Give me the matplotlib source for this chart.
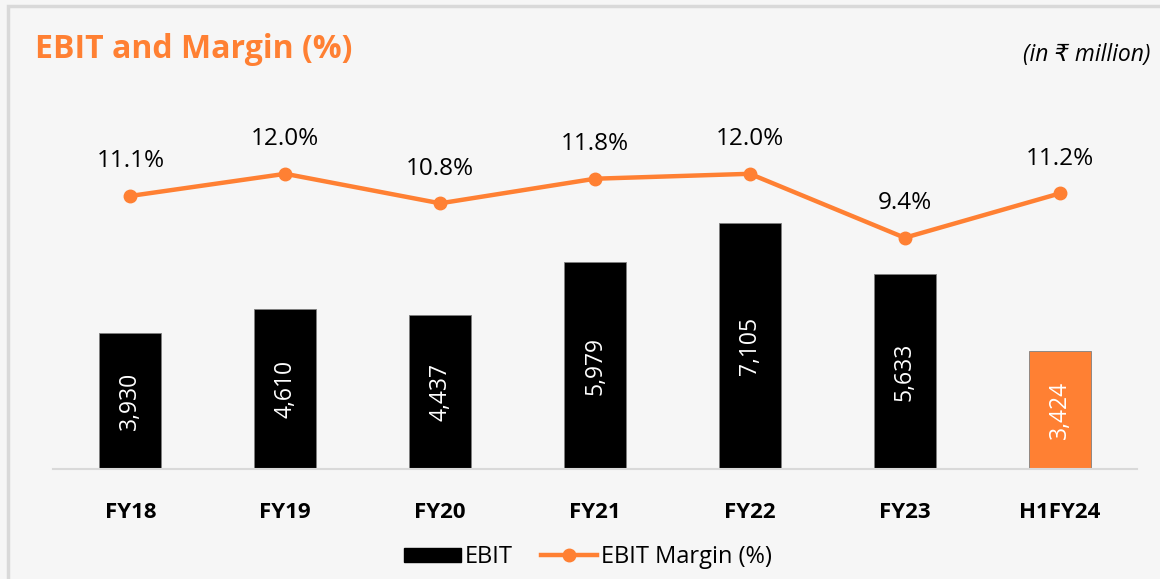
import matplotlib
matplotlib.use("Agg")
import matplotlib.pyplot as plt
from matplotlib.patches import Patch, Rectangle
from matplotlib.lines import Line2D

categories = ["FY18", "FY19", "FY20", "FY21", "FY22", "FY23", "H1FY24"]
ebit = [3930, 4610, 4437, 5979, 7105, 5633, 3424]
margin = [11.1, 12.0, 10.8, 11.8, 12.0, 9.4, 11.2]
bar_colors = ["#000000"] * 6 + ["#FF8033"]

ORANGE = "#FF8033"
BG = "#F6F6F6"
FONT = ["Open Sans", "DejaVu Sans"]
plt.rcParams["font.family"] = FONT

fig = plt.figure(figsize=(11.6, 5.79), dpi=100, facecolor=BG)
# outer border (left and top visible)
fig.patches.append(Rectangle((8 / 1160, -0.1), 1.2, 1 - 6 / 579 + 0.1,
                             transform=fig.transFigure, facecolor=BG,
                             edgecolor="#D9D9D9", linewidth=2.5, zorder=-1))

ax = fig.add_axes([53 / 1160, 1 - 469 / 579, 1084 / 1160, 369 / 579])
ax.set_facecolor("none")
x = list(range(len(categories)))
bars = ax.bar(x, ebit, width=0.4, color=bar_colors, edgecolor="#7F7F7F", linewidth=0.6, zorder=2)
ax.set_xlim(-0.5, len(categories) - 0.5)
ax.set_ylim(0, 10665)
for xi, v in zip(x, ebit):
    ax.text(xi, v / 2, f"{v:,}", rotation=90, ha="center", va="center",
            color="white", fontsize=16.5, zorder=3)

for s in ["top", "right", "left"]:
    ax.spines[s].set_visible(False)
ax.spines["bottom"].set_color("#D9D9D9")
ax.spines["bottom"].set_linewidth(1.5)
ax.set_yticks([])
ax.set_xticks(x)
ax.set_xticklabels(categories, fontweight="bold", fontsize=16)
ax.tick_params(axis="x", length=0, pad=24)

ax2 = ax.twinx()
ax2.set_ylim(0, 15.0)
ax2.set_yticks([])
for s in ax2.spines.values():
    s.set_visible(False)
ax2.plot(x, margin, color=ORANGE, linewidth=3.2, marker="o", markersize=9, zorder=4)
for xi, m in zip(x, margin):
    ax2.annotate(f"{m:.1f}%", (xi, m), xytext=(0, 25), textcoords="offset points",
                 ha="center", va="center", fontsize=17.5, color="#000000")

fig.text(35 / 1160, 1 - 50 / 579, "EBIT and Margin (%)", color=ORANGE,
         fontsize=23, fontweight="bold", ha="left", va="center")
fig.text(1150 / 1160, 1 - 55 / 579, "(in ₹ million)", style="italic",
         fontsize=16.5, ha="right", va="center", family=FONT)

handles = [Patch(facecolor="black", edgecolor="black"),
           Line2D([0], [0], color=ORANGE, linewidth=3.2, marker="o", markersize=9)]
fig.legend(handles, ["EBIT", "EBIT Margin (%)"], loc="center",
           bbox_to_anchor=(588 / 1160, 1 - 557 / 579), ncol=2, frameon=False,
           fontsize=17, handlelength=2.4, handleheight=0.55, columnspacing=1.2,
           handletextpad=0.15)

fig.savefig("out.png", dpi=100, facecolor=BG)
